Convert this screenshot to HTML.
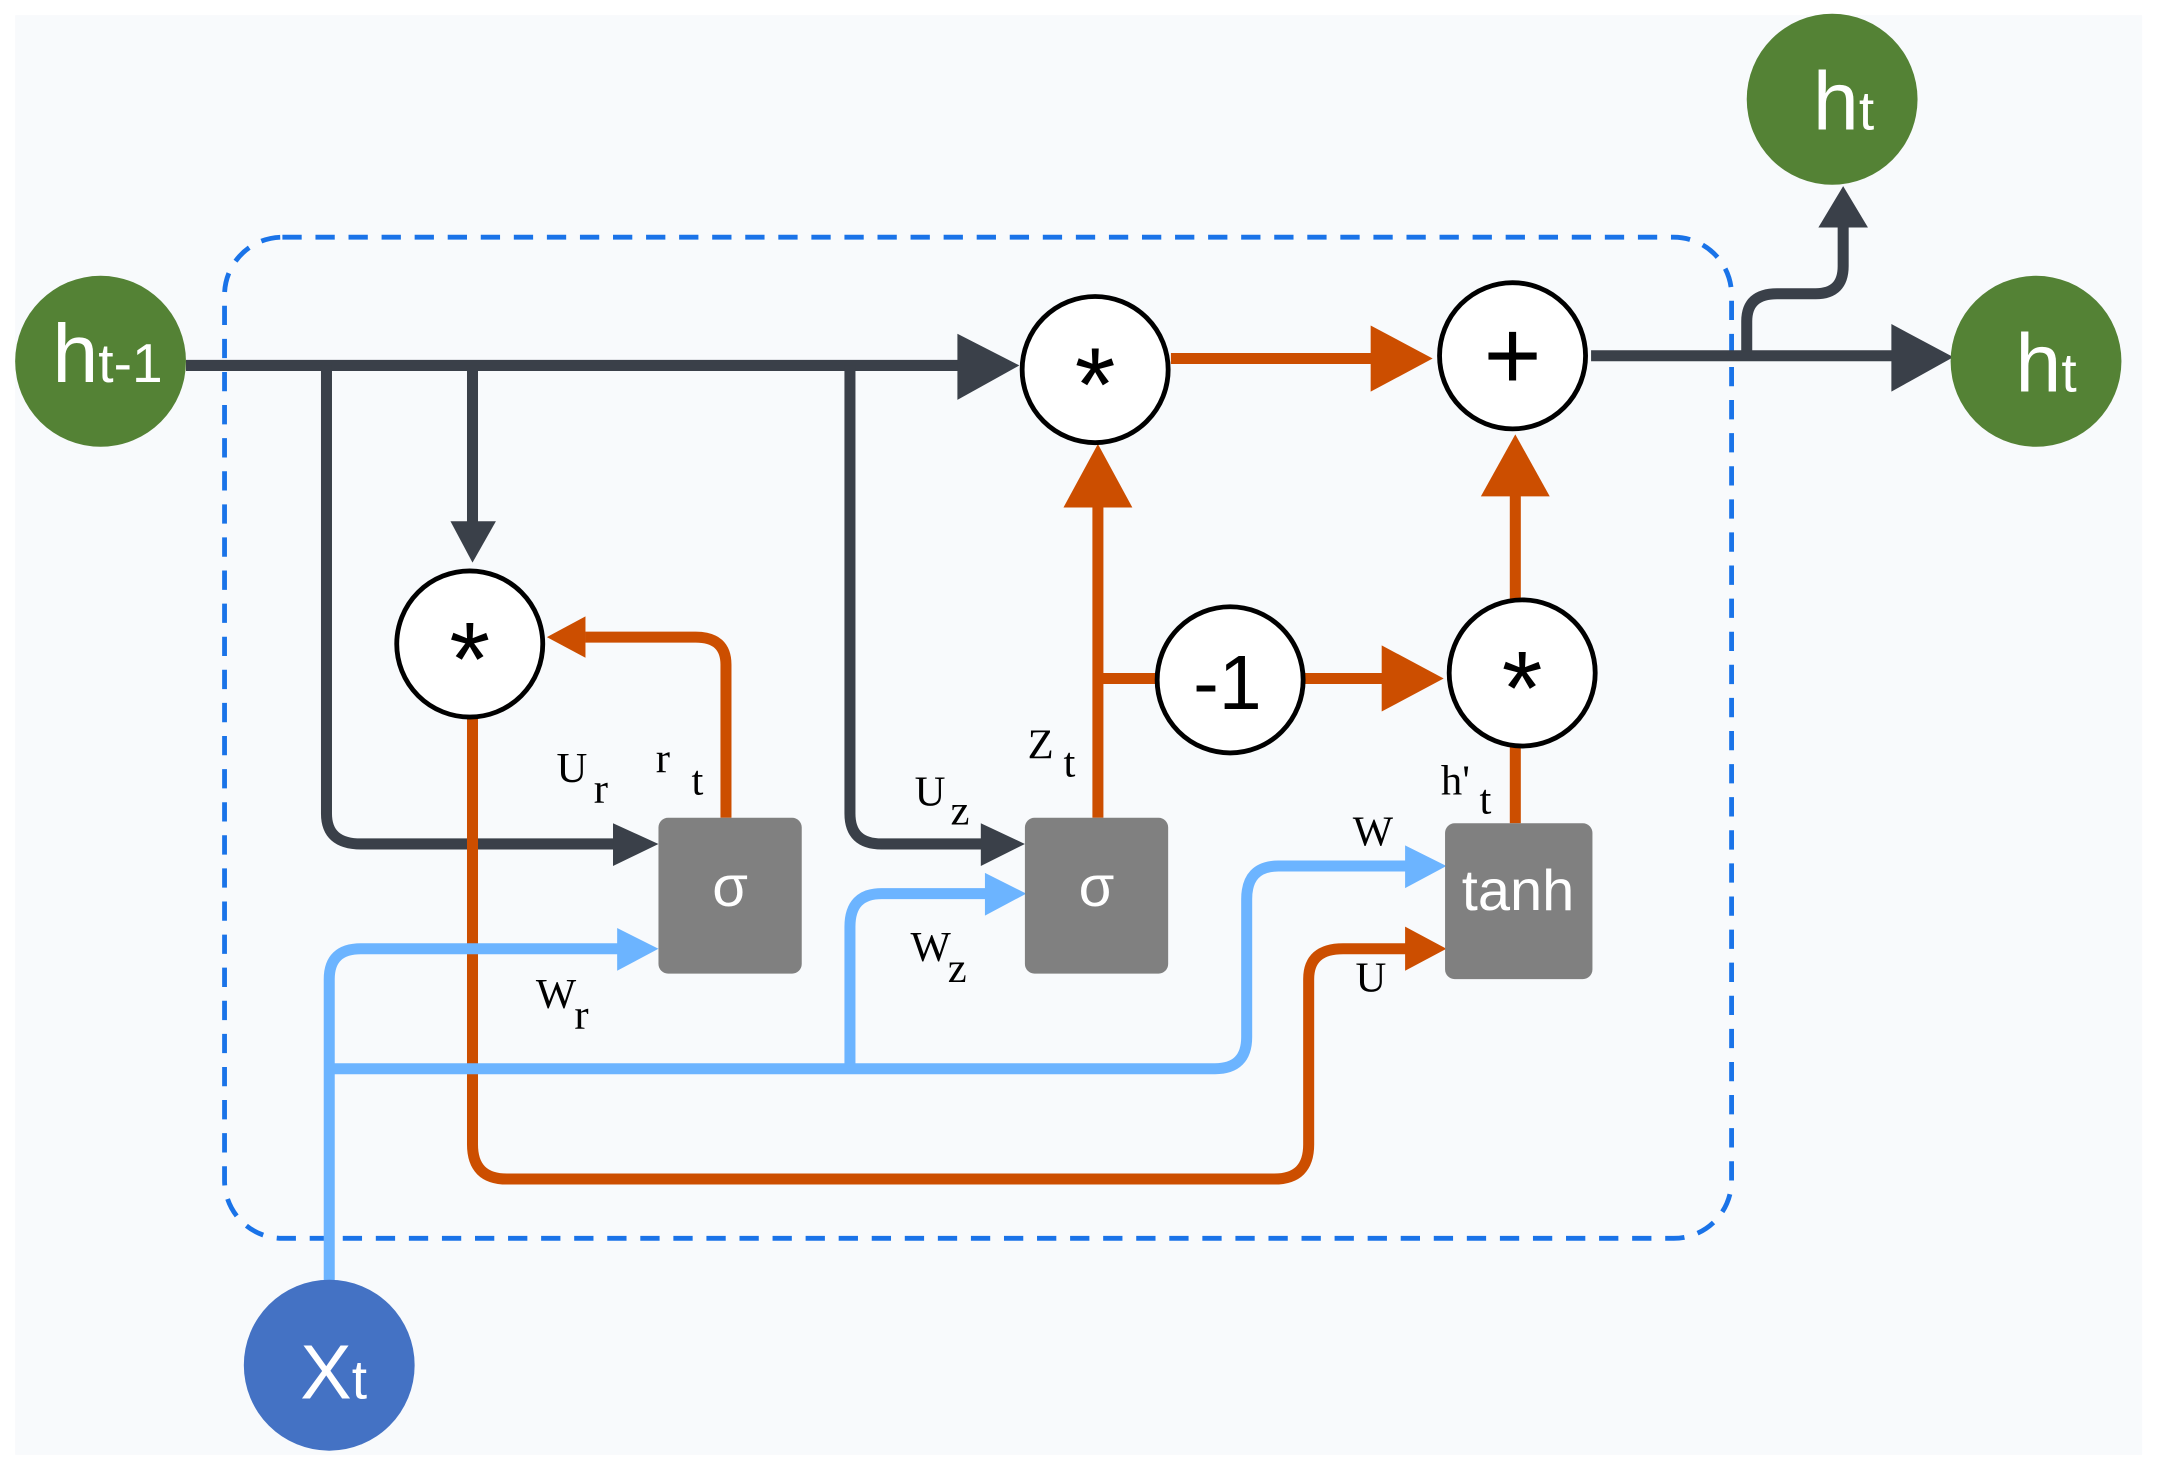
<!DOCTYPE html>
<html><head><meta charset="utf-8"><style>html,body{margin:0;padding:0;background:#fff}svg{display:block}</style></head>
<body>
<svg width="2160" height="1470" viewBox="0 0 1568 1066" preserveAspectRatio="none" xmlns="http://www.w3.org/2000/svg">
<rect x="0" y="0" width="1568" height="1066" fill="#ffffff"/>
<rect x="11" y="11" width="1544" height="1044" fill="#f8fafc"/>
<rect x="163" y="172" width="1094" height="726" rx="42" fill="none" stroke="#1a73e8" stroke-width="3.5" stroke-dasharray="14 10"/>

<g fill="none" stroke-width="8" stroke-linejoin="round">
<path d="M135 265 H698" stroke="#3a4049"/>
<path d="M237 265 V590 Q237 612 262 612 H448" stroke="#3a4049"/>
<path d="M343 265 V380" stroke="#3a4049"/>
<path d="M617 265 V590 Q617 612 640 612 H715" stroke="#3a4049"/>
<path d="M1155 258 H1378" stroke="#3a4049"/>
<path d="M1268 255 V233 Q1268 213 1290 213 H1318 Q1338 213 1338 193 V162" stroke="#3a4049"/>
<g stroke="#cc4e00">
<path d="M850 260 H998"/>
<path d="M343 518 V830 Q343 855 368 855 H925 Q950 855 950 830 V710 Q950 688 975 688 H1022"/>
<path d="M527 593 V482 Q527 462 505 462 H425"/>
<path d="M797 593 V368"/>
<path d="M797 492 H842"/>
<path d="M947 492 H1005"/>
<path d="M1100 597 V540"/>
<path d="M1100 436 V358"/>
</g>
<g stroke="#6cb4ff">
<path d="M239 930 V710 Q239 688 262 688 H450"/>
<path d="M239 775 H882 Q905 775 905 752 V652 Q905 628 928 628 H1022"/>
<path d="M617 775 V672 Q617 648 640 648 H717"/>
</g>
</g>
<g fill="#3a4049">
<polygon points="695,242 740,265 695,290"/>
<polygon points="445,597 478,612 445,628"/>
<polygon points="327,378 343,408 360,378"/>
<polygon points="712,597 744,612 712,628"/>
<polygon points="1373,235 1418,259 1373,284"/>
<polygon points="1320,165 1338,135 1356,165"/>
</g>
<g fill="#cc4e00">
<polygon points="995,236 1040,260 995,284"/>
<polygon points="425,447 397,462 425,477"/>
<polygon points="772,368 797,322 822,368"/>
<polygon points="1003,468 1048,492 1003,516"/>
<polygon points="1075,360 1100,315 1125,360"/>
<polygon points="1020,672 1050,688 1020,704"/>
</g>
<g fill="#6cb4ff">
<polygon points="448,673 478,688 448,704"/>
<polygon points="1020,613 1050,628 1020,644"/>
<polygon points="715,633 745,648 715,664"/>
</g>

<g fill="#808080">
<rect x="478" y="593" width="104" height="113" rx="7"/>
<rect x="744" y="593" width="104" height="113" rx="7"/>
<rect x="1049" y="597" width="107" height="113" rx="7"/>
</g>
<g fill="#fff" font-family="Liberation Sans, sans-serif" text-anchor="middle">
<text x="530" y="657" font-size="42">σ</text>
<text x="796" y="657" font-size="42">σ</text>
<text x="1102" y="660" font-size="42">tanh</text>
</g>

<g fill="#fff" stroke="#000" stroke-width="3.5">
<circle cx="795" cy="268" r="53"/>
<circle cx="1098" cy="258" r="53"/>
<circle cx="341" cy="467" r="53"/>
<circle cx="893" cy="493" r="53"/>
<circle cx="1105" cy="488" r="53"/>
</g>
<g fill="#000" font-family="Liberation Sans, sans-serif" text-anchor="middle">
<text x="795" y="305" font-size="76">*</text>
<text x="341" y="504" font-size="76">*</text>
<text x="1105" y="525" font-size="76">*</text>
<text x="1098" y="282" font-size="72">+</text>
<text x="891" y="514" font-size="56">-1</text>
</g>

<circle cx="73" cy="262" r="62" fill="#548235"/>
<circle cx="1330" cy="72" r="62" fill="#548235"/>
<circle cx="1478" cy="262" r="62" fill="#548235"/>
<circle cx="239" cy="990" r="62" fill="#4472c4"/>
<g fill="#fff" font-family="Liberation Sans, sans-serif">
<text x="38" y="277" font-size="60">h<tspan font-size="40">t-1</tspan></text>
<text x="1316" y="94" font-size="60">h<tspan font-size="40">t</tspan></text>
<text x="1463" y="284" font-size="60">h<tspan font-size="40">t</tspan></text>
<text x="218" y="1014" font-size="56">X<tspan font-size="40">t</tspan></text>
</g>

<g fill="#000" font-family="Liberation Serif, serif" font-size="31">
<text x="404" y="567">U</text><text x="431" y="582">r</text>
<text x="476" y="560">r</text><text x="502" y="576">t</text>
<text x="664" y="584">U</text><text x="690" y="598">z</text>
<text x="746" y="550">Z</text><text x="772" y="563">t</text>
<text x="661" y="697">W</text><text x="688" y="712">z</text>
<text x="389" y="731">W</text><text x="417" y="746">r</text>
<text x="982" y="613">W</text>
<text x="984" y="719">U</text>
<text x="1046" y="576">h'</text><text x="1074" y="590">t</text>
</g>
</svg>
</body></html>
